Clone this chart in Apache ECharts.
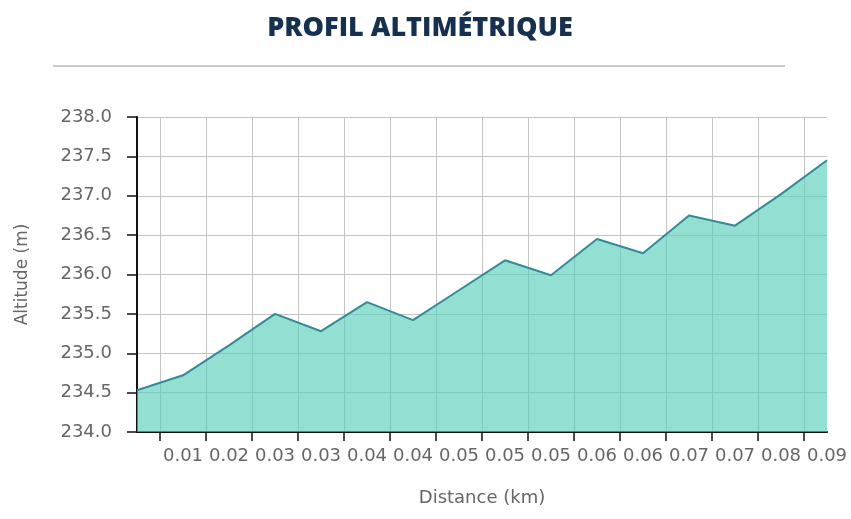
<!DOCTYPE html>
<html>
<head>
<meta charset="utf-8">
<script src="https://cdn.jsdelivr.net/npm/echarts@6/dist/echarts.min.js"></script>
<style>
  html, body { margin: 0; padding: 0; background: #fff; }
  #chart { width: 851px; height: 519px; }
</style>
</head>
<body>
<div id="chart"></div>
<script>
// distance labels (km) at each profile point
const distances = ['0.00', '0.01', '0.02', '0.03', '0.03', '0.04', '0.04', '0.05',
  '0.05', '0.05', '0.06', '0.06', '0.07', '0.07', '0.08', '0.09'];
// altitude (m)
const altitudes = [234.53, 234.72, 235.10, 235.50, 235.28, 235.65, 235.42, 235.80,
  236.18, 235.99, 236.45, 236.27, 236.75, 236.62, 237.02, 237.45];
const yTicks = [234.0, 234.5, 235.0, 235.5, 236.0, 236.5, 237.0, 237.5, 238.0];

// tick slots sit between two profile points
const slots = distances.slice(1).map(function () { return ''; });

const labelFont = '"DejaVu Sans", Verdana, sans-serif';
const myChart = echarts.init(document.getElementById('chart'));

const option = {
  animation: false,
  graphic: [
    {
      type: 'text',
      x: 420,
      y: 15,
      style: {
        text: 'PROFIL ALTIMÉTRIQUE',
        align: 'center',
        fill: '#16304f',
        font: '800 27px "Open Sans", sans-serif'
      }
    },
    {
      type: 'line',
      shape: { x1: 53, y1: 66, x2: 785, y2: 66 },
      style: { stroke: '#b8b8b8', lineWidth: 1.5 }
    }
  ],
  grid: { left: 137, right: 24, top: 117, bottom: 87 },
  xAxis: [
    {
      type: 'category',
      data: distances,
      boundaryGap: false,
      name: 'Distance (km)',
      nameLocation: 'middle',
      nameGap: 57,
      nameTextStyle: { color: '#666', fontSize: 18, fontFamily: labelFont },
      axisLine: { show: true, lineStyle: { color: '#111', width: 2 } },
      axisTick: { show: false },
      splitLine: { show: false },
      axisLabel: {
        interval: function (i) { return i > 0; },
        color: '#666',
        fontSize: 18,
        fontFamily: labelFont,
        margin: 15
      }
    },
    {
      type: 'category',
      data: slots,
      position: 'bottom',
      boundaryGap: true,
      axisLine: { show: false },
      axisLabel: { show: false },
      axisTick: {
        show: true,
        alignWithLabel: true,
        length: 9,
        lineStyle: { color: '#111', width: 1.5 }
      },
      splitLine: {
        show: true,
        alignWithLabel: true,
        lineStyle: { color: '#c4c4c4', width: 1 }
      }
    }
  ],
  yAxis: {
    type: 'value',
    min: yTicks[0],
    max: yTicks[yTicks.length - 1],
    interval: 0.5,
    name: 'Altitude (m)',
    nameLocation: 'middle',
    nameGap: 106,
    nameTextStyle: { color: '#666', fontSize: 17, fontFamily: labelFont },
    axisLine: { show: true, lineStyle: { color: '#111', width: 2 } },
    axisTick: { show: true, length: 10, lineStyle: { color: '#111', width: 1.5 } },
    axisLabel: {
      color: '#666',
      fontSize: 18,
      fontFamily: labelFont,
      margin: 25,
      formatter: function (v) { return v.toFixed(1); }
    },
    splitLine: { show: true, lineStyle: { color: '#c4c4c4', width: 1 } }
  },
  series: [
    {
      type: 'line',
      xAxisIndex: 0,
      data: altitudes,
      symbol: 'none',
      lineStyle: { color: '#338b98', width: 2 },
      areaStyle: { color: 'rgba(89, 207, 187, 0.65)', opacity: 1, origin: 'start' }
    }
  ]
};

myChart.setOption(option);
</script>
</body>
</html>
